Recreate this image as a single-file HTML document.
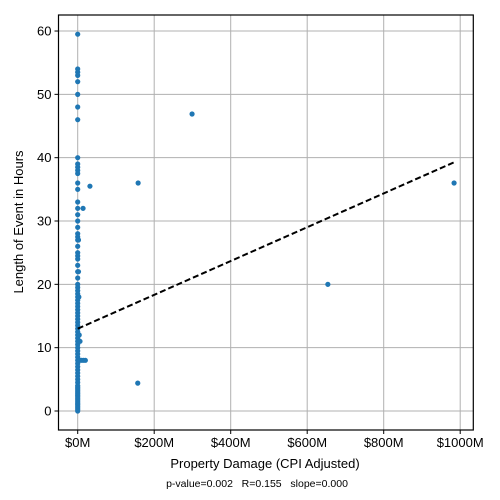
<!DOCTYPE html>
<html><head><meta charset="utf-8"><style>
html,body{margin:0;padding:0;background:#fff;}
svg{display:block;font-family:"Liberation Sans",Arial,sans-serif;}
</style></head><body>
<svg id="chart" width="500" height="500" viewBox="0 0 500 500">
<g id="grid"></g>
<g id="points"></g>
<g id="trend"></g>
<rect x="58.5" y="15" width="414.8" height="415" fill="none" stroke="#000" stroke-width="1.2"/>
<g id="ticks"></g>
<text x="265" y="468" text-anchor="middle" font-size="13">Property Damage (CPI Adjusted)</text>
<text transform="translate(23,222) rotate(-90)" text-anchor="middle" font-size="13">Length of Event in Hours</text>
<text x="257" y="487" text-anchor="middle" font-size="10.5" xml:space="preserve">p-value=0.002   R=0.155   slope=0.000</text>
</svg>
<script>
const xTicks=[0,200,400,600,800,1000];
const xTickLabels=["$0M","$200M","$400M","$600M","$800M","$1000M"];
const yTicks=[0,10,20,30,40,50,60];
const damageM=[0,0,0,0,0,0,0,0,0,0,0,0,0,0,0,0,0,0,0,0,0,0,0,0,0,0,0,0,0,0,0,0,0,0,0,0,0,0,0,0,0,0,0,0,0,0,0,0,0,0,0,0,0,0,0,0,0,0,0,0,0,0,0,0,0,0,0,0,0,0,0,0,0,0,0,0,0,0,0,
 299,158,157,654,984,32,14,6,5,10,15,20,2,3,2,4];
const hours=[59.5,54,53.5,53,52,50,48,46,40,39,38.5,38,37.5,36,35,33,32,31,30,29,28,27.5,27,26,25,24.5,24,23,22,21,20,19.5,19,18.5,18,17.5,17,16.5,16,15.5,15,14.5,14,13.5,13,12.5,12,11.5,11,10.5,10,9.5,9,8.5,8,7.5,7,6.5,6,5.5,5,4.5,4,3.5,3,2.5,2,1.5,1,0.5,0,0.25,0.75,1.25,1.75,2.25,2.75,3.25,3.75,
 46.9,36,4.4,20,36,35.5,32,11,8,8,8,8,27,18,22,12];
const trendX=[0,985];
const trendY=[13.0,39.3];
const NS="http://www.w3.org/2000/svg";
const X0=58.5,X1=473.3,Y0=15,Y1=430;
function sx(v){return 77.7+v*0.3825;}
function sy(v){return 411-v*6.333;}
function mk(tag,attrs,parent){const e=document.createElementNS(NS,tag);for(const k in attrs)e.setAttribute(k,attrs[k]);parent.appendChild(e);return e;}
const grid=document.getElementById('grid'),ticks=document.getElementById('ticks');
xTicks.forEach((t,i)=>{
 const x=sx(t);
 const g=mk('line',{x1:x,x2:x,y1:Y0,y2:Y1,stroke:'#b0b0b0','stroke-width':1},grid);
 
 
 const tk=mk('line',{x1:x,x2:x,y1:Y1,y2:Y1+4,stroke:'#000','stroke-width':1},ticks);
 
 
 const tx=mk('text',{x:x,y:Y1+17,'text-anchor':'middle','font-size':13},ticks);
 tx.textContent=xTickLabels[i];
 
 
});
yTicks.forEach(t=>{
 const y=sy(t);
 const g=mk('line',{x1:X0,x2:X1,y1:y,y2:y,stroke:'#b0b0b0','stroke-width':1},grid);
 
 
 const tk=mk('line',{x1:X0-4,x2:X0,y1:y,y2:y,stroke:'#000','stroke-width':1},ticks);
 
 
 const tx=mk('text',{x:X0-7,y:y+4.5,'text-anchor':'end','font-size':13},ticks);
 tx.textContent=t;
 
 
});
const pts=document.getElementById('points');
damageM.forEach((d,i)=>{
 const c=mk('circle',{cx:sx(d),cy:sy(hours[i]),r:2.6,fill:'#1f77b4'},pts);
 
 
});
const tl=mk('line',{x1:sx(trendX[0]),y1:sy(trendY[0]),x2:sx(trendX[1]),y2:sy(trendY[1]),stroke:'#000','stroke-width':2,'stroke-dasharray':'6,3'},document.getElementById('trend'));


</script>
</body></html>
